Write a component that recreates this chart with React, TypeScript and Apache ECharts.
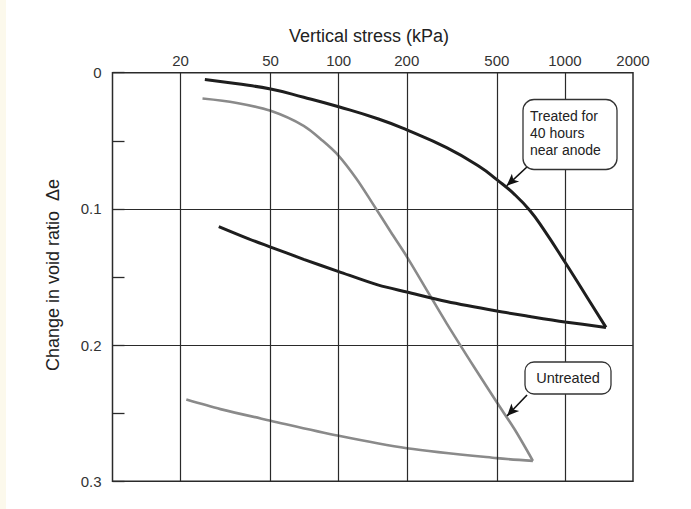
import React, { useEffect, useRef } from "react";
import * as echarts from "echarts";

// Axis ticks (vertical stress, kPa — log scale)
const xTickValues = [20, 50, 100, 200, 500, 1000, 2000];
const xGridValues = [20, 50, 100, 200, 500, 1000];

// Treated for 40 hours near anode: [stress kPa, Δe]
const treatedLoading: [number, number][] = [
  [25.6, 0.005], [35, 0.008], [50, 0.012], [70, 0.018], [100, 0.025],
  [150, 0.034], [200, 0.042], [300, 0.055], [420, 0.069], [500, 0.0785],
  [600, 0.0895], [700, 0.1012], [800, 0.1143], [1000, 0.139], [1265, 0.166],
  [1519, 0.187],
];
const treatedUnloading: [number, number][] = [
  [1519, 0.187], [1000, 0.183], [700, 0.179], [500, 0.175], [300, 0.168],
  [200, 0.161], [150, 0.156], [100, 0.146], [70, 0.137], [50, 0.128],
  [40, 0.122], [29.5, 0.113],
];

// Untreated
const untreatedLoading: [number, number][] = [
  [25, 0.019], [35, 0.022], [50, 0.028], [70, 0.039], [85, 0.05],
  [100, 0.061], [120, 0.078], [140, 0.095], [170, 0.117], [200, 0.135],
  [250, 0.162], [300, 0.184], [400, 0.217], [500, 0.242], [600, 0.262],
  [722, 0.285],
];
const untreatedUnloading: [number, number][] = [
  [722, 0.285], [500, 0.283], [200, 0.2757], [100, 0.2666], [50, 0.2555],
  [30, 0.247], [21.2, 0.24],
];

// Annotation arrows (data coordinates): [from, to]
const treatedArrow: [number, number][] = [[687, 0.0685], [553, 0.083]];
const untreatedArrow: [number, number][] = [[680, 0.2366], [555, 0.252]];

const FONT = "'Liberation Sans', Arial, Helvetica, sans-serif";

export default function App() {
  const ref = useRef<HTMLDivElement>(null);
  useEffect(() => {
    const chart = echarts.init(ref.current!, null, { renderer: "svg" });
    const arrowLine = (pts: [number, number][]) => ({
      silent: true,
      symbol: ["none", "arrow"],
      symbolSize: [8, 12],
      lineStyle: { color: "#111", width: 1.6, type: "solid" },
      label: { show: false },
      data: [[{ coord: pts[0] }, { coord: pts[1] }]],
    });
    chart.setOption({
      animation: false,
      backgroundColor: "#ffffff",
      grid: {
        left: 112.5,
        top: 72.7,
        width: 520.5,
        height: 408.6,
        show: true,
        borderColor: "#2a2a2a",
        borderWidth: 1.5,
        backgroundColor: "transparent",
      },
      xAxis: {
        type: "log",
        logBase: 10,
        min: 10,
        max: 2000,
        position: "top",
        axisLine: { show: false },
        axisTick: { show: false, customValues: xTickValues },
        splitLine: { show: false },
        minorSplitLine: { show: false },
        axisLabel: {
          customValues: xTickValues,
          formatter: (v: number) => String(Math.round(v)),
          margin: 5,
          fontFamily: FONT,
          fontSize: 15,
          color: "#333",
          showMinLabel: true,
          showMaxLabel: true,
        },
      },
      yAxis: {
        type: "value",
        inverse: true,
        min: 0,
        max: 0.3,
        interval: 0.1,
        axisLine: { show: false },
        axisTick: { show: true, inside: true, length: 12, lineStyle: { color: "#2a2a2a", width: 1.3 } },
        minorTick: { show: true, splitNumber: 2, length: 12, lineStyle: { color: "#2a2a2a", width: 1.3 } },
        splitLine: { show: true, lineStyle: { color: "#2a2a2a", width: 1.2 } },
        axisLabel: {
          margin: 11,
          fontFamily: FONT,
          fontSize: 15,
          color: "#333",
        },
      },
      series: [
        {
          type: "line",
          data: [],
          z: 1,
          silent: true,
          markLine: {
            silent: true,
            symbol: ["none", "none"],
            label: { show: false },
            lineStyle: { color: "#2a2a2a", width: 1.2, type: "solid" },
            data: xGridValues.map((v) => ({ xAxis: v })),
          },
        },
        {
          type: "line",
          data: treatedLoading,
          z: 3,
          showSymbol: false,
          symbol: "none",
          smooth: 0.5,
          lineStyle: { color: "#1e1e1e", width: 3 },
          markLine: arrowLine(treatedArrow),
        },
        {
          type: "line",
          data: treatedUnloading,
          z: 3,
          showSymbol: false,
          symbol: "none",
          smooth: 0.3,
          lineStyle: { color: "#1e1e1e", width: 3 },
        },
        {
          type: "line",
          data: untreatedLoading,
          z: 2,
          showSymbol: false,
          symbol: "none",
          smooth: 0.3,
          lineStyle: { color: "#8a8a8a", width: 2.6 },
          markLine: arrowLine(untreatedArrow),
        },
        {
          type: "line",
          data: untreatedUnloading,
          z: 2,
          showSymbol: false,
          symbol: "none",
          smooth: 0.3,
          lineStyle: { color: "#8a8a8a", width: 2.6 },
        },
      ],
      graphic: [
        { type: "rect", z: 0, silent: true, shape: { x: 0, y: 0, width: 6, height: 509 }, style: { fill: "#fcf9ec" } },
        {
          type: "text",
          z: 100,
          x: 369,
          y: 36,
          style: {
            text: "Vertical stress (kPa)",
            fontFamily: FONT,
            fontSize: 18,
            fill: "#222",
            align: "center",
            verticalAlign: "middle",
          },
        },
        {
          type: "text",
          z: 100,
          x: 53,
          y: 275,
          rotation: Math.PI / 2,
          style: {
            text: "Change in void ratio  Δe",
            fontFamily: FONT,
            fontSize: 18,
            fill: "#222",
            align: "center",
            verticalAlign: "middle",
          },
        },
        {
          type: "rect",
          z: 100,
          shape: { x: 523, y: 99.5, width: 94, height: 70, r: 11 },
          style: { fill: "#fff", stroke: "#333", lineWidth: 1.3 },
        },
        {
          type: "text",
          z: 101,
          x: 530,
          y: 107,
          style: {
            text: "Treated for\n40 hours\nnear anode",
            fontFamily: FONT,
            fontSize: 14,
            lineHeight: 17,
            fill: "#222",
            align: "left",
            verticalAlign: "top",
          },
        },
        {
          type: "rect",
          z: 100,
          shape: { x: 525, y: 362, width: 86, height: 32, r: 9 },
          style: { fill: "#fff", stroke: "#333", lineWidth: 1.3 },
        },
        {
          type: "text",
          z: 101,
          x: 568,
          y: 378,
          style: {
            text: "Untreated",
            fontFamily: FONT,
            fontSize: 14.5,
            fill: "#222",
            align: "center",
            verticalAlign: "middle",
          },
        },
      ],
    });
    return () => chart.dispose();
  }, []);
  return (
    <div
      ref={ref}
      style={{ position: "absolute", left: 0, top: 0, width: 691, height: 509, background: "#fff" }}
    />
  );
}
